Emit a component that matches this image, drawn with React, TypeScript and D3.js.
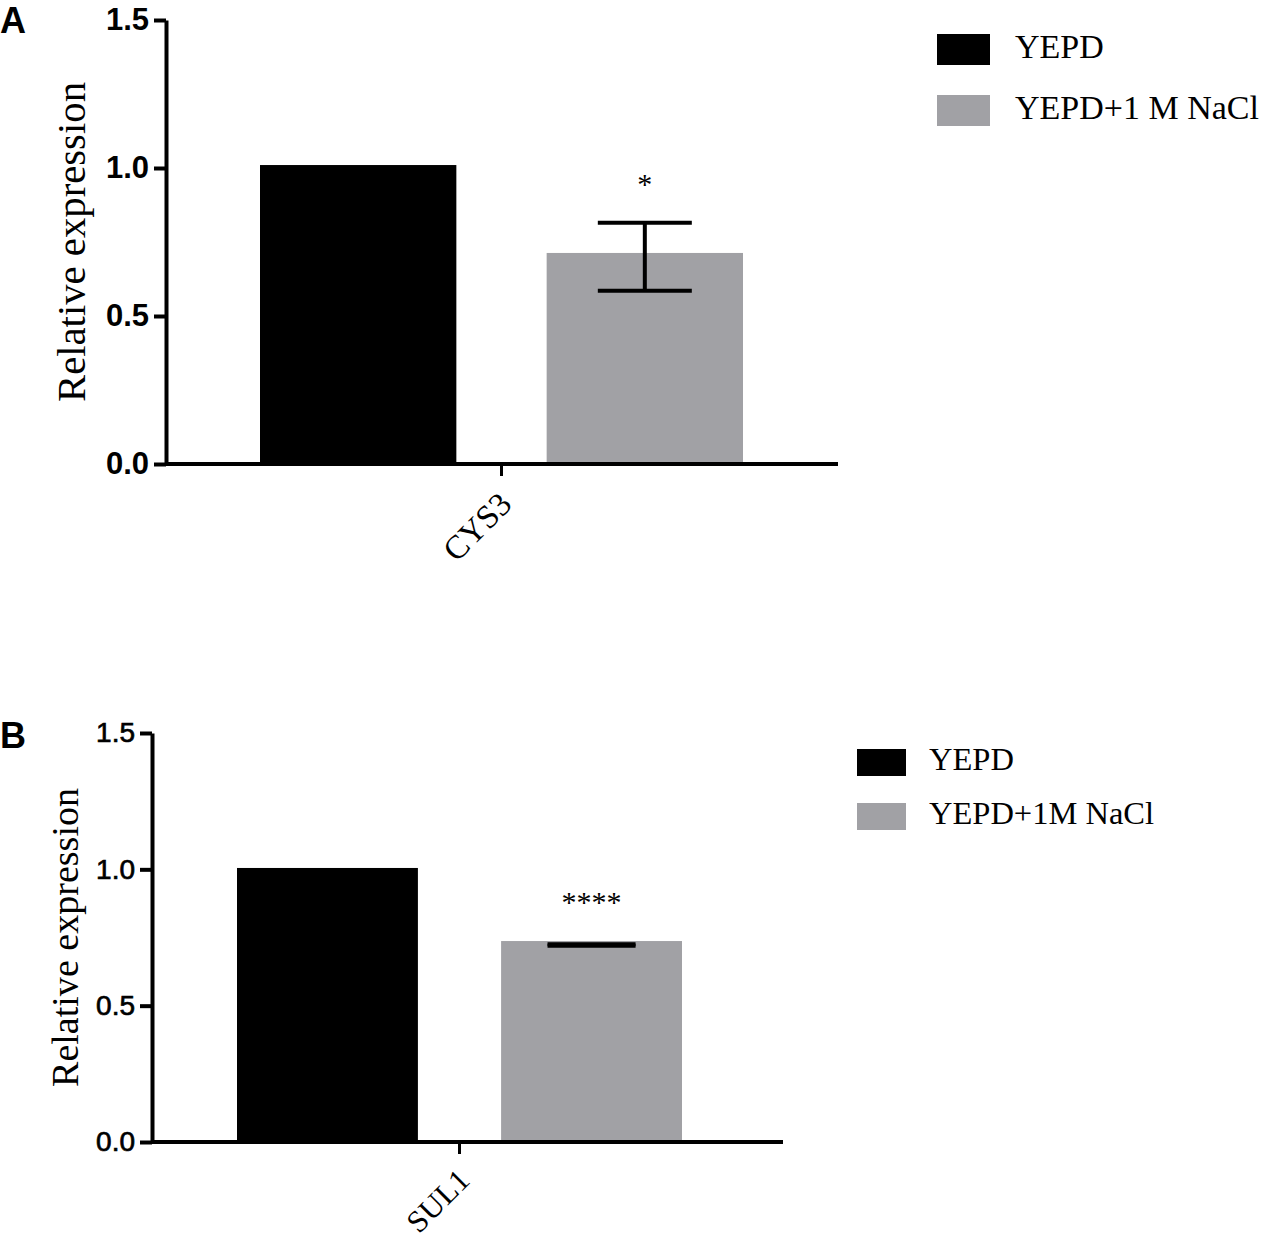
import { useEffect, useRef } from "react";
import * as d3 from "d3";

// values
const genes = ["CYS3", "SUL1"];
const conditions = ["YEPD", "YEPD+1M NaCl"];
const legendLabels = [["YEPD", "YEPD+1 M NaCl"], ["YEPD", "YEPD+1M NaCl"]];
const yepdValues = [1.01, 1.005];
const naclValues = [0.713, 0.737];
const naclErrLow = [0.585, 0.72];
const naclErrHigh = [0.815, 0.725];
const significance = ["*", "****"];
const yTicks = [0, 0.5, 1.0, 1.5];
const panelLetters = ["A", "B"];

const colors = ["#000000", "#a1a1a5"];

// layout per panel
const panels = [
    {
        left: 166, right: 838, top: 20, bottom: 464,
        barsL: 260, barsR: 743, capW: 94,
        tickFont: { size: 31, weight: "bold", stroke: 0 },
        yLabel: { x: 85, size: 39, len: 320 },
        legend: { x: 937, y: 34, w: 53, h: 31, gap: 61, textX: 1015, size: 34 },
        geneFont: 33, geneShift: [12, 42],
        letterY: 33,
    },
    {
        left: 152, right: 783, top: 733, bottom: 1142,
        barsL: 237, barsR: 682, capW: 88,
        tickFont: { size: 28, weight: "normal", stroke: 0.7 },
        yLabel: { x: 78, size: 37, len: 299 },
        legend: { x: 857, y: 749, w: 49, h: 27, gap: 54, textX: 929, size: 32.5 },
        geneFont: 31, geneShift: [12, 40],
        letterY: 748,
    },
];

const serif = "'Liberation Serif', 'Times New Roman', serif";
const sans = "'Liberation Sans', Arial, sans-serif";

function drawPanel(svg: d3.Selection<SVGSVGElement, unknown, null, undefined>, i: number) {
    const p = panels[i];
    const g = svg.append("g");

    const y = d3.scaleLinear().domain([0, 1.5]).range([p.bottom, p.top]);

    const gene = d3.scaleBand().domain([genes[i]]).range([p.barsL, p.barsR]);
    const x = d3.scaleBand()
        .domain(conditions)
        .range([p.barsL, p.barsR])
        .paddingInner(0.315)
        .paddingOuter(0);

    const values = [yepdValues[i], naclValues[i]];

    // bars
    g.selectAll("rect.bar")
        .data(conditions)
        .join("rect")
        .attr("class", "bar")
        .attr("x", d => x(d)!)
        .attr("width", x.bandwidth())
        .attr("y", (_, j) => y(values[j]))
        .attr("height", (_, j) => y(0) - y(values[j]))
        .attr("fill", (_, j) => colors[j]);

    // error bar on the NaCl bar
    const cx = x(conditions[1])! + x.bandwidth() / 2;
    const lo = naclErrLow[i];
    const hi = naclErrHigh[i];
    const err = g.append("g").attr("stroke", "#000").attr("stroke-width", 4);
    err.append("line").attr("x1", cx).attr("x2", cx).attr("y1", y(lo)).attr("y2", y(hi));
    [lo, hi].forEach(v => {
        err.append("line")
            .attr("x1", cx - p.capW / 2).attr("x2", cx + p.capW / 2)
            .attr("y1", y(v)).attr("y2", y(v));
    });

    // significance stars
    g.append("text")
        .attr("x", cx)
        .attr("y", y(Math.max(hi, values[1])) - 29)
        .attr("text-anchor", "middle")
        .attr("font-family", serif)
        .attr("font-size", 30)
        .text(significance[i]);

    // y axis
    g.append("g")
        .attr("transform", `translate(${p.left},0)`)
        .call(d3.axisLeft(y).tickValues(yTicks).tickFormat(d3.format(".1f")).tickSize(12).tickSizeOuter(0).tickPadding(5))
        .call(a => a.selectAll("path, line").attr("stroke", "#000").attr("stroke-width", 4))
        .call(a => a.selectAll("text")
            .attr("fill", "#000")
            .attr("stroke", p.tickFont.stroke ? "#000" : null)
            .attr("stroke-width", p.tickFont.stroke || null)
            .attr("font-family", sans)
            .attr("font-size", p.tickFont.size)
            .attr("font-weight", p.tickFont.weight));

    // x axis line and gene tick
    g.append("line")
        .attr("x1", p.left).attr("x2", p.right)
        .attr("y1", p.bottom).attr("y2", p.bottom)
        .attr("stroke", "#000").attr("stroke-width", 4);

    g.append("g")
        .attr("transform", `translate(0,${p.bottom})`)
        .call(d3.axisBottom(gene).tickSize(12).tickSizeOuter(0))
        .call(a => a.select(".domain").remove())
        .call(a => a.selectAll("line").attr("stroke", "#000").attr("stroke-width", 3))
        .call(a => a.selectAll("text")
            .attr("fill", "#000")
            .attr("font-family", serif)
            .attr("font-size", p.geneFont)
            .attr("text-anchor", "end")
            .attr("dy", null)
            .attr("y", 0)
            .attr("transform", `translate(${p.geneShift[0]},${p.geneShift[1]}) rotate(-45)`));

    // y axis title
    g.append("text")
        .attr("transform", `translate(${p.yLabel.x},${(p.top + p.bottom) / 2}) rotate(-90)`)
        .attr("text-anchor", "middle")
        .attr("font-family", serif)
        .attr("font-size", p.yLabel.size)
        .attr("textLength", p.yLabel.len)
        .attr("lengthAdjust", "spacingAndGlyphs")
        .text("Relative expression");

    // panel letter
    g.append("text")
        .attr("x", 0)
        .attr("y", p.letterY)
        .attr("font-family", sans)
        .attr("font-weight", "bold")
        .attr("font-size", 36)
        .text(panelLetters[i]);

    // legend
    const lg = g.append("g");
    legendLabels[i].forEach((label, j) => {
        const top = p.legend.y + j * p.legend.gap;
        lg.append("rect")
            .attr("x", p.legend.x).attr("y", top)
            .attr("width", p.legend.w).attr("height", p.legend.h)
            .attr("fill", colors[j]);
        lg.append("text")
            .attr("x", p.legend.textX)
            .attr("y", top + p.legend.h * 0.78)
            .attr("font-family", serif)
            .attr("font-size", p.legend.size)
            .text(label);
    });
}

export default function App() {
    const ref = useRef<SVGSVGElement>(null);

    useEffect(() => {
        const svg = d3.select(ref.current!);
        svg.selectAll("*").remove();
        panels.forEach((_, i) => drawPanel(svg, i));
    }, []);

    return (
        <svg
            ref={ref}
            width={1274}
            height={1239}
            style={{ position: "absolute", left: 0, top: 0, background: "#fff" }}
        />
    );
}
